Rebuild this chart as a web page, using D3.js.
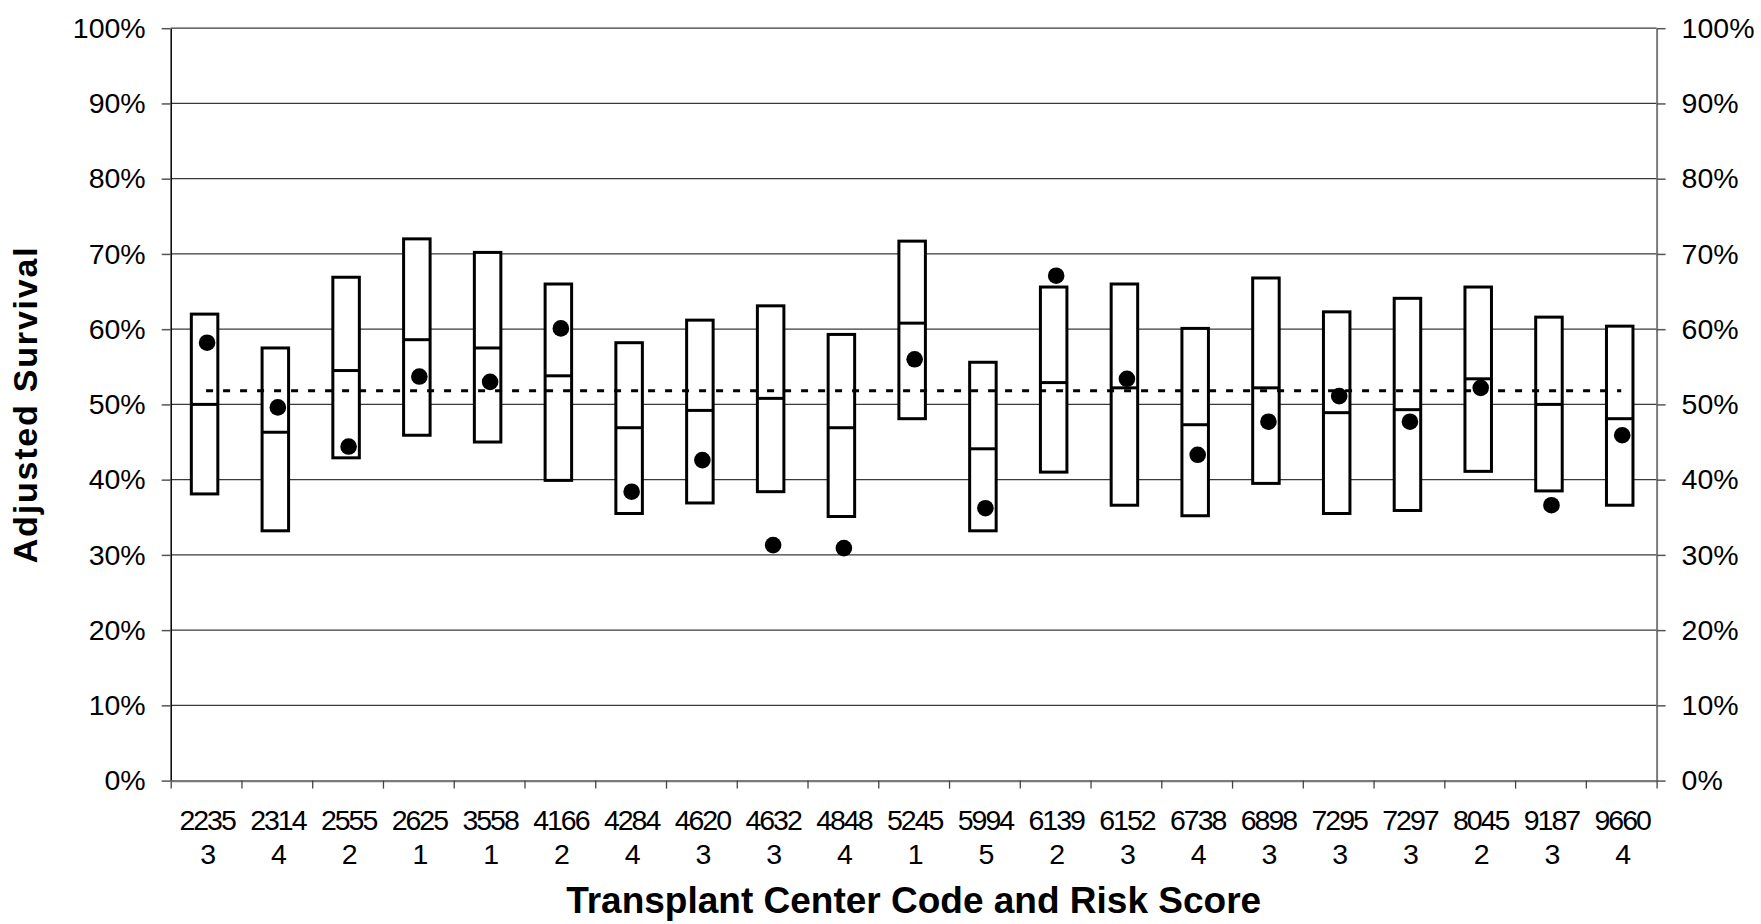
<!DOCTYPE html>
<html>
<head>
<meta charset="utf-8">
<script src="https://cdnjs.cloudflare.com/ajax/libs/d3/7.8.5/d3.min.js"></script>
<style>
  body { margin: 0; background: #fff; }
  svg { display: block; font-family: "Liberation Sans", Arial, sans-serif; }
</style>
</head>
<body>
<svg id="chart" width="1761" height="924"></svg>
<script>
// center code + risk score along the bottom
var codes = ["2235","2314","2555","2625","3558","4166","4284","4620","4632","4848","5245",
             "5994","6139","6152","6738","6898","7295","7297","8045","9187","9660"];
var risk = [3,4,2,1,1,2,4,3,3,4,1,5,2,3,4,3,3,3,2,3,4];

// expected range (box top / middle / bottom) and observed survival, in %
var upper  = [62.0,57.5,66.9,72.0,70.2,66.0,58.2,61.2,63.1,59.3,71.7,55.6,65.6,66.0,60.1,66.8,62.3,64.1,65.6,61.6,60.4];
var median = [50.0,46.3,54.5,58.6,57.5,53.8,46.9,49.2,50.8,46.9,60.8,44.1,52.9,52.2,47.3,52.2,48.9,49.3,53.4,50.0,48.1];
var lower  = [38.1,33.2,42.9,45.9,45.0,39.9,35.5,36.9,38.4,35.1,48.1,33.2,41.0,36.6,35.2,39.5,35.5,35.9,41.1,38.5,36.6];
var observed = [58.2,49.6,44.4,53.7,53.0,60.1,38.4,42.6,31.3,30.9,56.0,36.2,67.1,53.4,43.3,47.7,51.1,47.7,52.2,36.6,45.9];
var overall = 51.8;

var yTicks = [0,10,20,30,40,50,60,70,80,90,100];

var chart = d3.select("#chart");

// (don't call it "top", that's window.top)
var plotLeft = 170.7, plotRight = 1656.6, plotTop = 28.2, plotBottom = 780.6;

var xScale = d3.scaleBand()
    .domain(codes)
    .range([plotLeft, plotRight])
    .padding(0);

var xTicks = d3.scaleLinear()
    .domain([0, codes.length])
    .range([plotLeft, plotRight]);

var yScale = d3.scaleLinear()
    .domain([0, 100])
    .range([plotBottom, plotTop]);

var rows = codes.map(function(c, i) {
    return {code: c, risk: risk[i], hi: upper[i], mid: median[i], lo: lower[i], obs: observed[i]};
});

function mid(d) { return xScale(d.code) + xScale.bandwidth() / 2; }

// gridlines
chart.append("g")
    .selectAll("line")
    .data(yTicks.filter(function(d) { return d > 0; })).enter()
    .append("line")
        .attr("x1", plotLeft)
        .attr("x2", plotRight)
        .attr("y1", function(d) { return yScale(d); })
        .attr("y2", function(d) { return yScale(d); })
        .attr("stroke", "#3a3a3a")
        .attr("stroke-width", 1.2);

// left axis
var yAxis = chart.append("g")
    .attr("transform", "translate(" + plotLeft + ",0)")
    .call(d3.axisLeft(yScale).tickValues(yTicks).tickFormat(function(d) { return d + "%"; })
        .tickSize(9).tickSizeOuter(0).tickPadding(16));
yAxis.select(".domain").attr("stroke", "#000").attr("stroke-width", 1.5);
yAxis.selectAll(".tick line").attr("stroke", "#555").attr("stroke-width", 1.5);
yAxis.selectAll("text").attr("font-size", "28.5px").attr("fill", "#000")
    .attr("font-family", "'Liberation Sans', Arial, sans-serif");

// right axis
var yAxis2 = chart.append("g")
    .attr("transform", "translate(" + plotRight + ",0)")
    .call(d3.axisRight(yScale).tickValues(yTicks).tickFormat(function(d) { return d + "%"; })
        .tickSize(9).tickSizeOuter(0).tickPadding(16));
yAxis2.select(".domain").attr("stroke", "#7a7a7a").attr("stroke-width", 2);
yAxis2.selectAll(".tick line").attr("stroke", "#555").attr("stroke-width", 1.5);
yAxis2.selectAll("text").attr("font-size", "28.5px").attr("fill", "#000")
    .attr("font-family", "'Liberation Sans', Arial, sans-serif");

// bottom axis, ticks between categories
var xAxis = chart.append("g")
    .attr("transform", "translate(0," + plotBottom + ")")
    .call(d3.axisBottom(xTicks).tickValues(d3.range(codes.length + 1)).tickFormat("")
        .tickSize(8).tickSizeOuter(0));
xAxis.select(".domain").attr("stroke", "#7a7a7a").attr("stroke-width", 2.2);
xAxis.selectAll(".tick line").attr("stroke", "#444").attr("stroke-width", 1.3);

// category labels (code over risk score)
var labels = chart.append("g")
    .selectAll("text")
    .data(rows).enter()
    .append("text")
        .attr("text-anchor", "middle")
        .attr("font-size", "28.5px")
        .attr("letter-spacing", "-2px")
        .attr("fill", "#000");
labels.append("tspan")
    .attr("x", function(d) { return mid(d) + 1; })
    .attr("y", plotBottom + 49)
    .text(function(d) { return d.code; });
labels.append("tspan")
    .attr("x", function(d) { return mid(d) + 1; })
    .attr("y", plotBottom + 83)
    .text(function(d) { return d.risk; });

// boxes
var boxW = 26.5;
var boxes = chart.append("g").selectAll("g")
    .data(rows).enter()
    .append("g");

boxes.append("rect")
    .attr("x", function(d) { return mid(d) - 1.5 - boxW / 2; })
    .attr("y", function(d) { return yScale(d.hi); })
    .attr("width", boxW)
    .attr("height", function(d) { return yScale(d.lo) - yScale(d.hi); })
    .attr("fill", "#fff")
    .attr("stroke", "#000")
    .attr("stroke-width", 3);

boxes.append("line")
    .attr("x1", function(d) { return mid(d) - 1.5 - boxW / 2; })
    .attr("x2", function(d) { return mid(d) - 1.5 + boxW / 2; })
    .attr("y1", function(d) { return yScale(d.mid); })
    .attr("y2", function(d) { return yScale(d.mid); })
    .attr("stroke", "#000")
    .attr("stroke-width", 3);

// overall survival dotted line
chart.append("line")
    .attr("x1", mid(rows[0]))
    .attr("x2", mid(rows[rows.length - 1]))
    .attr("y1", yScale(overall))
    .attr("y2", yScale(overall))
    .attr("stroke", "#000")
    .attr("stroke-width", 3)
    .attr("stroke-dasharray", "7,10");

// observed survival
chart.append("g").selectAll("circle")
    .data(rows).enter()
    .append("circle")
        .attr("cx", function(d) { return mid(d) + 1; })
        .attr("cy", function(d) { return yScale(d.obs); })
        .attr("r", 8.3)
        .attr("fill", "#000");

// axis titles
chart.append("text")
    .text("Transplant Center Code and Risk Score")
    .attr("x", (plotLeft + plotRight) / 2)
    .attr("y", 913)
    .attr("text-anchor", "middle")
    .attr("font-size", "37px")
    .attr("font-weight", "bold");

chart.append("text")
    .text("Adjusted Survival")
    .attr("transform", "translate(37," + ((plotTop + plotBottom) / 2) + ") rotate(-90)")
    .attr("text-anchor", "middle")
    .attr("font-size", "34px")
    .attr("letter-spacing", "1.8px")
    .attr("font-weight", "bold");
</script>
</body>
</html>
